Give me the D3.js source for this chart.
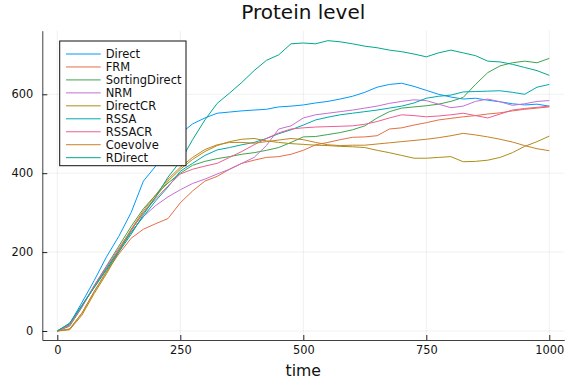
<!DOCTYPE html>
<html><head><meta charset="utf-8">
<script src="https://cdn.jsdelivr.net/npm/d3@7"></script>
<style>body{margin:0;background:#fff}svg{display:block}text{font-family:"DejaVu Sans",sans-serif}</style>
</head><body><svg id="c" width="576" height="384"></svg>
<script>
const times = [0,25,50,75,100,125,150,175,200,225,250,275,300,325,350,375,400,425,450,475,500,525,550,575,600,625,650,675,700,725,750,775,800,825,850,875,900,925,950,975,1000];
const seriesNames = ["Direct","FRM","SortingDirect","NRM","DirectCR","RSSA","RSSACR","Coevolve","RDirect"];
const colors = ["#009AFA","#E36F47","#3EA44E","#C371D2","#AC8E18","#00AAAE","#ED5E93","#C68225","#00A98D"];
const direct =        [0,18,72,128,188,240,300,380,418,460,500,525,540,552,555,558,560,562,568,570,573,578,582,588,595,605,618,625,628,620,610,600,593,588,590,585,581,576,573,575,570];
const frm =           [0,5,45,100,150,195,235,258,272,285,325,355,380,392,410,425,433,440,442,448,458,472,478,485,491,492,495,512,515,522,528,535,539,543,546,550,553,558,562,565,568];
const sortingDirect = [0,12,60,115,165,215,265,310,345,375,400,420,430,437,442,448,452,458,465,478,492,493,498,503,510,520,540,556,565,568,571,575,582,592,625,655,672,680,684,680,691];
const nrm =           [0,15,62,112,160,205,250,290,318,340,358,374,385,398,410,425,440,470,512,520,540,548,552,556,560,565,570,577,582,586,584,575,566,570,582,588,581,572,576,582,584];
const directCR =      [0,3,40,95,145,200,255,300,340,380,410,435,455,470,480,486,488,482,478,475,473,471,470,468,467,465,458,452,445,438,438,440,442,429,430,433,440,452,468,480,494];
const rssa =          [0,18,65,112,158,205,250,290,330,365,405,425,445,459,465,472,478,488,500,510,522,535,542,548,552,556,560,565,570,578,590,595,598,606,607,608,609,605,600,618,625];
const rssacr =        [0,15,62,115,163,210,255,300,335,368,398,410,418,425,440,455,472,488,502,512,515,517,518,519,520,524,531,540,548,546,543,545,548,552,546,540,550,560,564,567,570];
const coevolve =      [0,5,45,100,150,205,258,305,345,385,415,440,460,472,478,478,476,480,484,488,485,478,472,470,471,471,474,477,480,483,486,490,495,501,497,492,486,479,470,462,457];
const rDirect =       [0,20,65,110,155,200,245,295,340,390,430,485,535,577,603,630,660,686,700,728,730,728,736,733,728,722,718,712,708,702,695,705,712,705,698,684,682,676,668,660,648];
const allSeries = [direct,frm,sortingDirect,nrm,directCR,rssa,rssacr,coevolve,rDirect];
const xTicks = [0,250,500,750,1000];
const yTicks = [0,200,400,600];
const title = "Protein level";
const xLabel = "time";

const svg = d3.select("#c");
const L=42.3,R=564.3,T=30.7,B=340;
const x = d3.scaleLinear().domain([-30.5,1030.5]).range([L,R]);
const y = d3.scaleLinear().domain([-22.8,761.2]).range([B,T]);

// grid
const g = svg.append("g");
g.selectAll(".gx").data(xTicks).enter().append("line")
 .attr("x1",d=>x(d)).attr("x2",d=>x(d)).attr("y1",T).attr("y2",B)
 .attr("stroke","#000").attr("stroke-opacity",0.1).attr("stroke-width",0.6);
g.selectAll(".gy").data(yTicks).enter().append("line")
 .attr("x1",L).attr("x2",R).attr("y1",d=>y(d)).attr("y2",d=>y(d))
 .attr("stroke","#000").attr("stroke-opacity",0.1).attr("stroke-width",0.6);

// lines
const line = d3.line().x((d,i)=>x(times[i])).y(d=>y(d));
allSeries.forEach((s,k)=>{
  svg.append("path").datum(s).attr("d",line).attr("fill","none")
   .attr("stroke",colors[k]).attr("stroke-width",1);
});

// axes
const ax = svg.append("g").attr("transform",`translate(0,${B})`)
 .call(d3.axisBottom(x).tickValues(xTicks).tickSizeInner(-5).tickSizeOuter(0).tickPadding(6.4).tickFormat(d3.format("d")));
const ay = svg.append("g").attr("transform",`translate(${L},0)`)
 .call(d3.axisLeft(y).tickValues(yTicks).tickSizeInner(-5).tickSizeOuter(0).tickPadding(9).tickFormat(d3.format("d")));
[ax,ay].forEach(a=>{
  a.select(".domain").attr("stroke","#404040").attr("stroke-width",1);
  a.selectAll(".tick line").attr("stroke","#202020").attr("stroke-width",1);
  a.selectAll(".tick text").attr("fill","#111").style("font-size","11.4px").style("font-family","'DejaVu Sans',sans-serif");
});

// title & label
svg.append("text").attr("x",(L+R)/2).attr("y",18.5).attr("text-anchor","middle")
 .style("font-size","20px").attr("fill","#111").text(title);
svg.append("text").attr("x",(L+R)/2).attr("y",376).attr("text-anchor","middle")
 .style("font-size","15.7px").attr("fill","#111").text(xLabel);

// legend
const lg = svg.append("g");
lg.append("rect").attr("x",59.7).attr("y",41).attr("width",126.3).attr("height",124.7)
 .attr("fill","#fff").attr("stroke","#111").attr("stroke-width",1);
seriesNames.forEach((n,i)=>{
  const yy = 54 + i*12.96;
  lg.append("line").attr("x1",66).attr("x2",100.7).attr("y1",yy).attr("y2",yy)
   .attr("stroke",colors[i]).attr("stroke-width",1);
  lg.append("text").attr("x",105.7).attr("y",yy).attr("dy","0.36em")
   .style("font-size","11.5px").attr("fill","#111").text(n);
});
</script></body></html>
